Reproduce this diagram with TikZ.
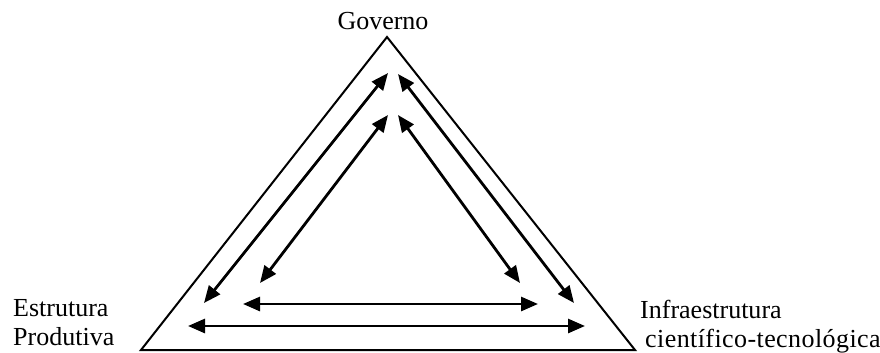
\documentclass[tikz,border=0pt]{standalone}
\usepackage{fontspec}
\setmainfont{Liberation Serif}
\usetikzlibrary{arrows.meta}
\tikzset{
  link/.style={{Triangle[length=17pt,width=14pt]}-{Triangle[length=17pt,width=14pt]}, line width=2.8pt},
  corner/.style={font=\fontsize{26}{29}\selectfont, inner sep=0pt, align=left},
}
\begin{document}
\begin{tikzpicture}[x=1pt,y=-1pt]
  \useasboundingbox (0,0) rectangle (880,353);
  \draw[line width=2pt]
    (387,37) coordinate (top)
    -- (141,350) coordinate (left)
    -- (635,350) coordinate (right) -- cycle;
  \node[corner, anchor=base] (gov) at (383,30) {Governo};
  \node[corner, anchor=north west] (prod) at (13,299) {Estrutura\\Produtiva};
  \node[corner, anchor=north west] (infra) at (640,300) {Infraestrutura\\\hspace*{5pt}{\addfontfeature{LetterSpace=1.6}científico-tecnológica}};
  % outer arrows
  \coordinate (o1) at (388,73);
  \coordinate (o2) at (204,303);
  \coordinate (o3) at (398,74);
  \coordinate (o4) at (574,303);
  \coordinate (o5) at (188,326);
  \coordinate (o6) at (585,326);
  % inner arrows
  \coordinate (i1) at (388,115);
  \coordinate (i2) at (260,283);
  \coordinate (i3) at (398,115);
  \coordinate (i4) at (520,283);
  \coordinate (i5) at (243,304);
  \coordinate (i6) at (538,304);
  \begin{scope}[link]
    \draw (o1) to (o2);
    \draw (o3) to (o4);
    \draw (o5) to (o6);
    \draw (i1) to (i2);
    \draw (i3) to (i4);
    \draw (i5) to (i6);
  \end{scope}
\end{tikzpicture}
\end{document}
